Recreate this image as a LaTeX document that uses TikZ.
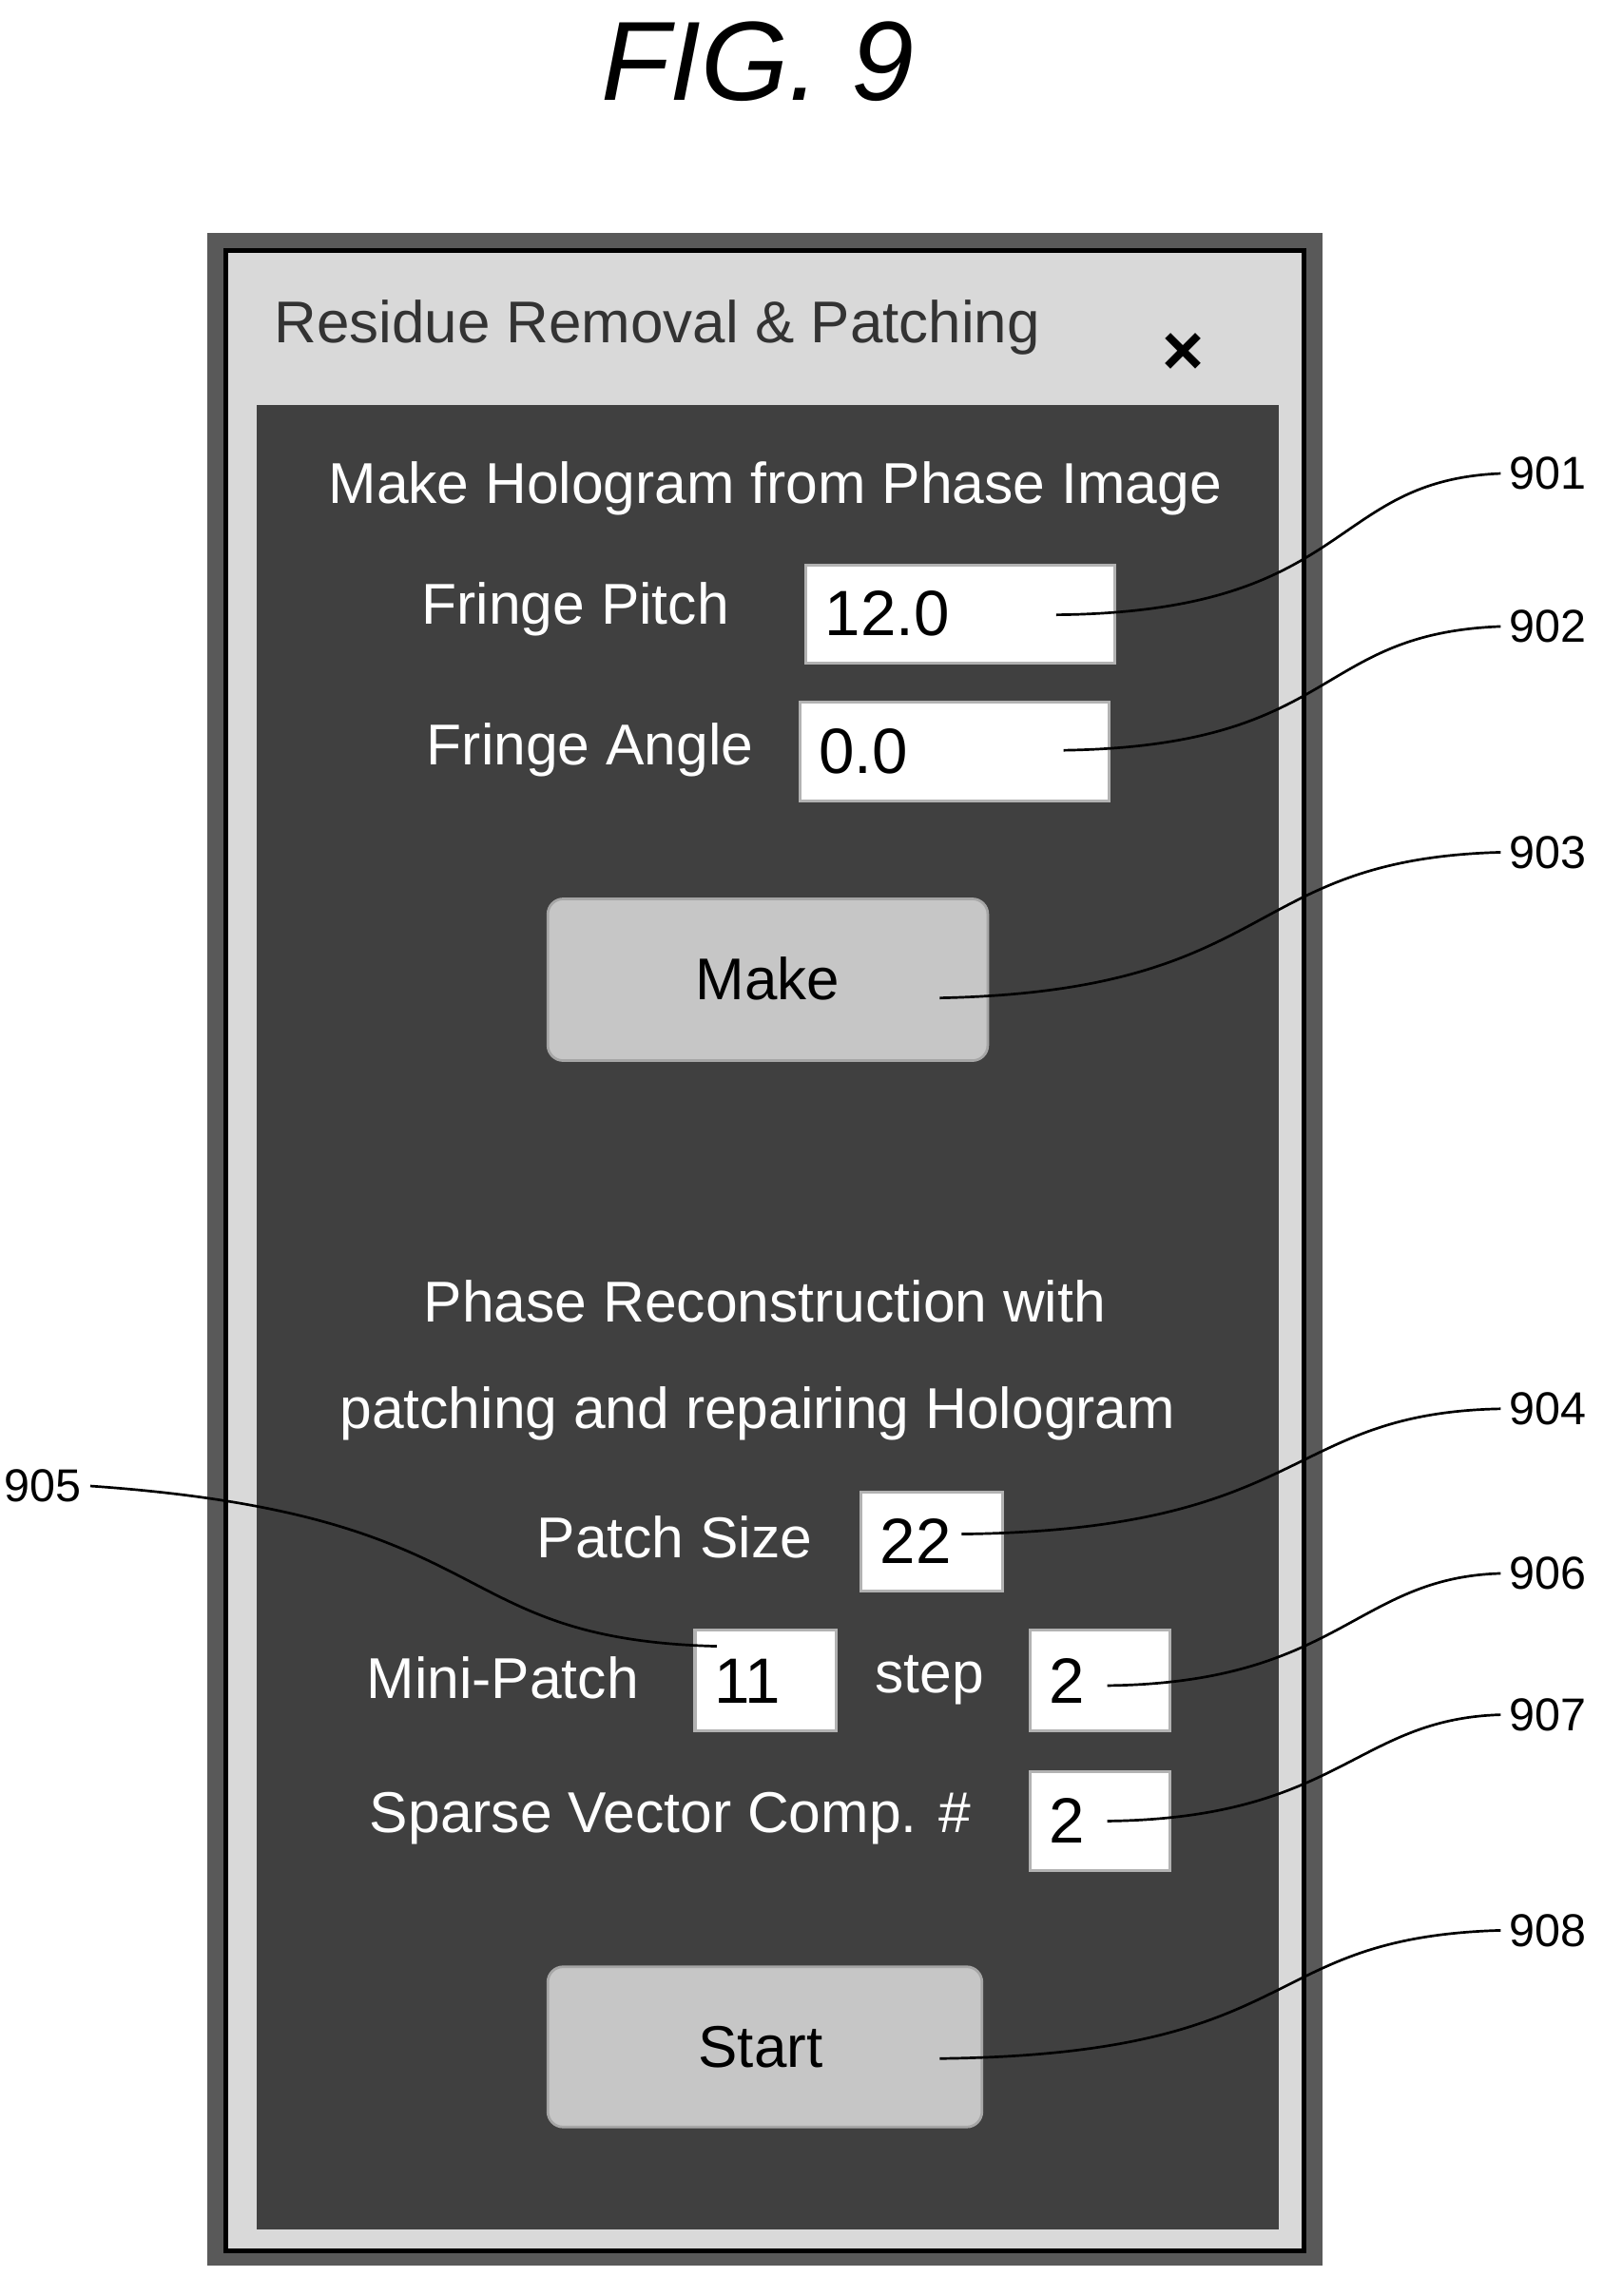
\documentclass[tikz,border=0pt]{standalone}
\usepackage{fontspec}
\setmainfont{Liberation Sans}
\begin{document}
\begin{tikzpicture}[x=0.02cm,y=-0.02cm,
  lbl/.style={font=\fontsize{22.5}{27}\selectfont,text=white},
  fld/.style={draw=gray!60,line width=1.2pt,fill=white},
  fldt/.style={font=\fontsize{25}{30}\selectfont,anchor=west},
  btn/.style={draw=gray!70,line width=1pt,fill=gray!45,rounded corners=6pt},
  num/.style={font=\fontsize{18}{20}\selectfont,anchor=west},
  lead/.style={line width=1pt}]
\useasboundingbox (0,0) rectangle (1100,1576);
\node (fig) at (520,42) {\fontsize{44}{50}\selectfont\itshape FIG. 9};
% window
\fill[gray!70!black] (142,160) rectangle (908,1555);
\draw[black,line width=2pt,fill=gray!30] (155,172) rectangle (895,1545);
\fill[black!75] (176,278) rectangle (878,1530);
\node[anchor=west,font=\fontsize{23}{28}\selectfont,text=black!80] (title) at (182,225) {Residue Removal \& Patching};
\node[font=\fontsize{28}{30}\selectfont\bfseries] (x) at (812,243) {×};
\node[lbl] (h1) at (532,335) {Make Hologram from Phase Image};
\node[lbl] (fp) at (395,418) {Fringe Pitch};
\draw[fld] (553,388) rectangle (765,455); \node[fldt] (v1) at (560,421) {12.0};
\node[lbl] (fa) at (405,515) {Fringe Angle};
\draw[fld] (549,482) rectangle (761,550); \node[fldt] (v2) at (556,516) {0.0};
\draw[btn] (376,617) rectangle (678,728); \node[font=\fontsize{23}{28}\selectfont] (make) at (527,672) {Make};
\node[lbl] (h2) at (525,893) {Phase Reconstruction with};
\node[lbl] (h3) at (520,970) {patching and repairing Hologram};
\node[lbl] (ps) at (463,1055) {Patch Size};
\draw[fld] (591,1024) rectangle (688,1092); \node[fldt] (v4) at (598,1058) {22};
\node[lbl] (mp) at (345,1152) {Mini-Patch};
\draw[fld] (477,1119) rectangle (574,1188); \node[fldt] (v5) at (484,1154) {11};
\node[lbl] (st) at (638,1153) {step};
\draw[fld] (707,1119) rectangle (803,1188); \node[fldt] (v6) at (714,1154) {2};
\node[lbl] (sv) at (460,1248) {Sparse Vector Comp. \#};
\draw[fld] (707,1216) rectangle (803,1284); \node[fldt] (v7) at (714,1250) {2};
\draw[btn] (376,1350) rectangle (674,1460); \node[font=\fontsize{23}{28}\selectfont] (start) at (522,1405) {Start};
% reference numerals
\node[num] (n901) at (1030,325) {901};
\node[num] (n902) at (1030,430) {902};
\node[num] (n903) at (1030,585) {903};
\node[num] (n904) at (1030,967) {904};
\node[num,anchor=east] (n905) at (62,1020) {905};
\node[num] (n906) at (1030,1080) {906};
\node[num] (n907) at (1030,1177) {907};
\node[num] (n908) at (1030,1325) {908};
\coordinate (e1) at (725,422); \coordinate (e2) at (730,515); \coordinate (e3) at (645,685);
\coordinate (e4) at (660,1053); \coordinate (e5) at (492,1130); \coordinate (e6) at (760,1157);
\coordinate (e7) at (760,1250); \coordinate (e8) at (645,1413);
\draw[lead] (n901.west) .. controls (910,330) and (930,420) .. (e1);
\draw[lead] (n902.west) .. controls (900,435) and (920,512) .. (e2);
\draw[lead] (n903.west) .. controls (850,590) and (880,680) .. (e3);
\draw[lead] (n904.west) .. controls (880,970) and (900,1050) .. (e4);
\draw[lead] (n905.east) .. controls (350,1040) and (300,1125) .. (e5);
\draw[lead] (n906.west) .. controls (930,1083) and (920,1155) .. (e6);
\draw[lead] (n907.west) .. controls (930,1180) and (920,1248) .. (e7);
\draw[lead] (n908.west) .. controls (860,1330) and (900,1410) .. (e8);
\end{tikzpicture}
\end{document}
